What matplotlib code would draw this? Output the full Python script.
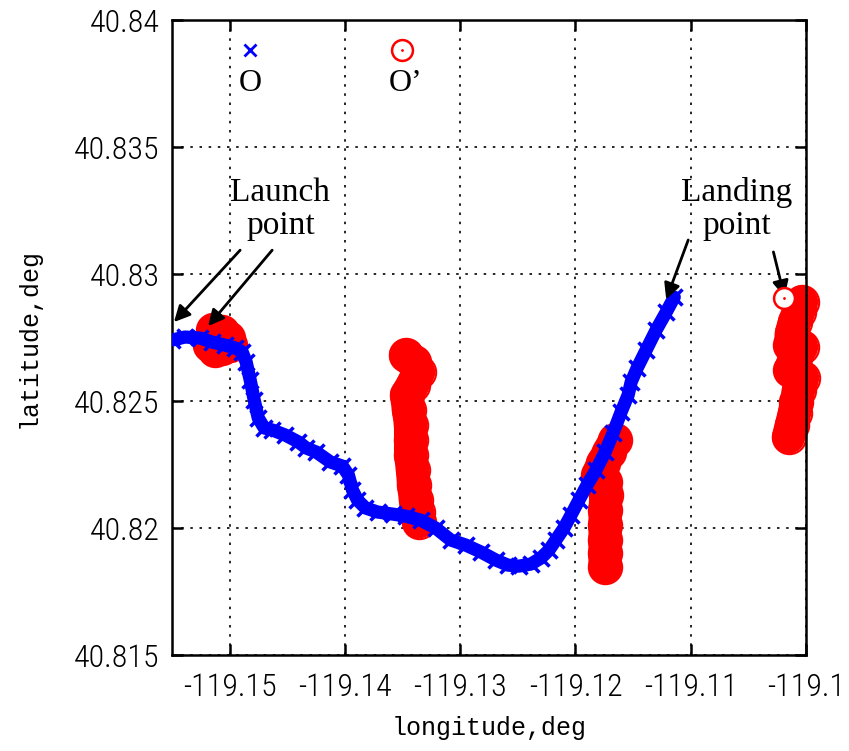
import matplotlib
matplotlib.use("Agg")
import matplotlib.pyplot as plt
from matplotlib import font_manager

# fonts: condensed for ticks, monospace for labels, serif for notes
fonts = font_manager.fontManager.ttflist
names = {f.name for f in fonts}
if "Liberation Sans Narrow" in names:
    tick_font, tick_stretch = "Liberation Sans Narrow", "normal"
elif "Roboto Condensed" in names:
    tick_font, tick_stretch = "Roboto Condensed", "normal"
else:
    tick_font, tick_stretch = "DejaVu Sans", "condensed"
label_font = "Liberation Mono"
note_font = "Liberation Serif"

# O : trajectory (blue x)
o_lon = [-119.15500, -119.15387, -119.15257, -119.15152, -119.15039, -119.14952, -119.14891,
         -119.14857, -119.14822, -119.14787, -119.14752, -119.14700, -119.14630, -119.14517,
         -119.14404, -119.14335, -119.14248, -119.14126, -119.14022, -119.13970, -119.13935,
         -119.13891, -119.13822, -119.13717, -119.13587, -119.13474, -119.13343, -119.13213,
         -119.13083, -119.12952, -119.12822, -119.12691, -119.12587, -119.12491, -119.12387,
         -119.12300, -119.12230, -119.12170, -119.12100, -119.12039, -119.11970, -119.11900,
         -119.11822, -119.11743, -119.11674, -119.11604, -119.11543, -119.11517, -119.11465,
         -119.11387, -119.11300, -119.11213, -119.11143]
o_lat = [40.82740, 40.82752, 40.82748, 40.82732, 40.82720, 40.82709, 40.82693,
         40.82654, 40.82583, 40.82504, 40.82433, 40.82394, 40.82386, 40.82366,
         40.82339, 40.82315, 40.82299, 40.82260, 40.82244, 40.82209, 40.82150,
         40.82110, 40.82079, 40.82063, 40.82055, 40.82047, 40.82031, 40.82000,
         40.81953, 40.81933, 40.81906, 40.81874, 40.81854, 40.81850, 40.81858,
         40.81882, 40.81913, 40.81953, 40.82000, 40.82051, 40.82110, 40.82169,
         40.82228, 40.82299, 40.82374, 40.82457, 40.82524, 40.82575, 40.82630,
         40.82701, 40.82780, 40.82850, 40.82909]

# O' : estimated positions (red circles), four segments
op1_lon = [-119.15143, -119.15065, -119.15013, -119.14996, -119.15065, -119.15126, -119.15170]
op1_lat = [40.82780, 40.82772, 40.82748, 40.82720, 40.82709, 40.82701, 40.82720]

op2_lon = [-119.13474, -119.13404, -119.13361, -119.13413, -119.13465, -119.13448, -119.13430,
           -119.13430, -119.13430, -119.13413, -119.13404, -119.13387, -119.13370, -119.13361]
op2_lat = [40.82681, 40.82654, 40.82614, 40.82563, 40.82524, 40.82465, 40.82406,
           40.82346, 40.82287, 40.82228, 40.82169, 40.82110, 40.82063, 40.82024]

op3_lon = [-119.11657, -119.11709, -119.11761, -119.11804, -119.11743, -119.11735, -119.11743,
           -119.11743, -119.11743, -119.11743, -119.11743]
op3_lat = [40.82346, 40.82299, 40.82256, 40.82209, 40.82181, 40.82130, 40.82071,
           40.82012, 40.81953, 40.81902, 40.81846]

op4_lon = [-119.10039, -119.10065, -119.10100, -119.10126, -119.10135, -119.10039, -119.10100,
           -119.10135, -119.10030, -119.10065, -119.10083, -119.10100, -119.10126, -119.10152]
op4_lat = [40.82890, 40.82850, 40.82811, 40.82768, 40.82720, 40.82713, 40.82669,
           40.82622, 40.82591, 40.82543, 40.82496, 40.82453, 40.82406, 40.82358]

land_lon = [-119.10187]
land_lat = [40.82906]

xticks = [-119.15, -119.14, -119.13, -119.12, -119.11, -119.1]
xtick_labels = ["-119.15", "-119.14", "-119.13", "-119.12", "-119.11", "-119.1"]
yticks = [40.815, 40.82, 40.825, 40.83, 40.835, 40.84]
ytick_labels = ["40.815", "40.82", "40.825", "40.83", "40.835", "40.84"]

fig = plt.figure(figsize=(8.49, 7.51), dpi=100)
ax = fig.add_axes([0.2026, 0.1278, 0.7468, 0.8455])

blue = "#0000ff"
red = "#ff0000"

ax.plot(o_lon, o_lat, color=blue, lw=9.5, solid_capstyle="round", solid_joinstyle="round", zorder=3)
ax.plot(o_lon, o_lat, ls="none", marker="x", ms=11, mew=2.5, color=blue, zorder=3)

for lo, la in [(op1_lon, op1_lat), (op2_lon, op2_lat), (op3_lon, op3_lat), (op4_lon, op4_lat)]:
    ax.plot(lo, la, color=red, lw=24, solid_capstyle="round", solid_joinstyle="round",
            zorder=2, clip_on=False)
    ax.plot(lo, la, ls="none", marker="o", ms=24, mfc="none", mec=red, mew=1.5,
            zorder=2, clip_on=False)
ax.plot(land_lon, land_lat, ls="none", marker="o", ms=15, mfc="white", mec=red, mew=1.8, zorder=4)
ax.plot(land_lon, land_lat, ls="none", marker=".", ms=2, color=red, zorder=4)

ax.set_xlim(-119.155, -119.1)
ax.set_ylim(40.815, 40.84)
ax.set_xticks(xticks)
ax.set_xticklabels(xtick_labels, fontfamily=tick_font, fontstretch=tick_stretch,
                   fontweight="light", fontsize=23)
ax.set_yticks(yticks)
ax.set_yticklabels(ytick_labels, fontfamily=tick_font, fontstretch=tick_stretch,
                   fontweight="light", fontsize=23)
ax.tick_params(direction="in", length=8, width=1.8, top=True, right=True)
ax.tick_params(axis="x", pad=13)
ax.tick_params(axis="y", pad=9)
for s in ax.spines.values():
    s.set_linewidth(1.8)
ax.grid(True, color="black", ls=(0, (1.5, 4)), lw=1.2)
ax.set_axisbelow(True)

ax.set_xlabel("longitude,deg", fontfamily=label_font, fontsize=18, labelpad=10)
ax.set_ylabel("latitude,deg", fontfamily=label_font, fontsize=18, labelpad=24)

# legend keys drawn by hand: marker above the name
ax.plot([0.123], [0.953], transform=ax.transAxes, marker="x", ms=8, mew=2, color=blue, ls="none")
ax.text(0.123, 0.900, "O", transform=ax.transAxes, ha="center", va="center",
        fontfamily=note_font, fontsize=23)
ax.plot([0.363], [0.953], transform=ax.transAxes, marker="o", ms=15, mfc="none", mec=red, mew=1.8, ls="none")
ax.plot([0.363], [0.953], transform=ax.transAxes, marker=".", ms=2, color=red, ls="none")
ax.text(0.368, 0.900, "O\u2019", transform=ax.transAxes, ha="center", va="center",
        fontfamily=note_font, fontsize=23)

arrow = dict(arrowstyle="-|>", color="black", lw=2, mutation_scale=24, shrinkA=0, shrinkB=0)
ax.text(-119.14560, 40.83256, "Launch\npoint", ha="center", va="center",
        fontfamily=note_font, fontsize=24, linespacing=1.1)
ax.annotate("", xy=(-119.15483, 40.82811), xytext=(-119.14909, 40.83094), arrowprops=arrow)
ax.annotate("", xy=(-119.15187, 40.82795), xytext=(-119.14631, 40.83094), arrowprops=arrow)

ax.text(-119.10600, 40.83256, "Landing\npoint", ha="center", va="center",
        fontfamily=note_font, fontsize=24, linespacing=1.1)
ax.annotate("", xy=(-119.11213, 40.82900), xytext=(-119.11022, 40.83134), arrowprops=arrow)
ax.annotate("", xy=(-119.10187, 40.82910), xytext=(-119.10283, 40.83087), arrowprops=arrow)

fig.savefig("out.png", dpi=100)
